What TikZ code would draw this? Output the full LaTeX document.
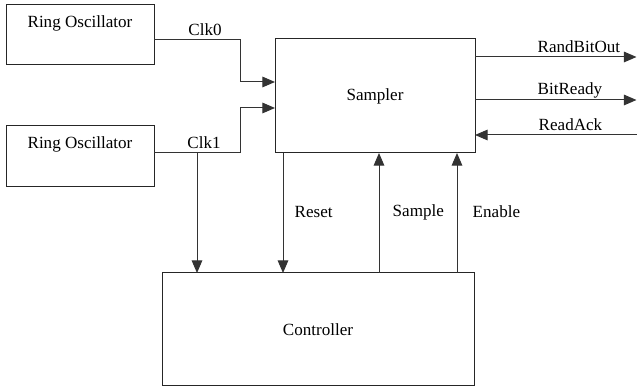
\documentclass[tikz,border=0pt]{standalone}
\usepackage{fontspec}
\setmainfont{Liberation Serif}
\newfontfamily\blockfont{Liberation Serif}
\usetikzlibrary{arrows.meta}

\begin{document}
\begin{tikzpicture}[x=0.75pt,y=-0.75pt,
    font=\blockfont\fontsize{12.8}{14}\selectfont,
    blk/.style={draw=black!85, line width=0.75pt, inner sep=0pt, outer sep=0pt},
    sig/.style={draw=black!80, line width=0.75pt, -{Triangle[length=9.5pt,width=8pt]}}]
    \useasboundingbox (0,0) rectangle (637,388);

    % blocks
    \node (ro0) at (80,35)[blk, minimum width=111pt, minimum height=45pt,
        label={[anchor=north, yshift=-4.5pt]north:Ring Oscillator}]{} ;
    \node (ro1) at (80,156.5)[blk, minimum width=111pt, minimum height=45.75pt,
        label={[anchor=north, yshift=-4.5pt]north:Ring Oscillator}]{} ;
    \node (smp) at (375,96)[blk, minimum width=150pt, minimum height=85.5pt]{Sampler} ;
    \node (ctl) at (318,329.5)[blk, minimum width=234pt, minimum height=84.75pt]{Controller} ;

    % wire ends and bends
    \coordinate (o0) at (154,39.5);
    \coordinate (o1) at (154,152.5);
    \coordinate (bend) at (240,0);
    \coordinate (i0) at (275,82);
    \coordinate (i1) at (275,108);
    \coordinate (tap) at (197,152.5);
    \coordinate (xrst) at (283,0);
    \coordinate (xsmp) at (379,0);
    \coordinate (xen) at (457,0);
    \coordinate (rbo) at (636.5,57);
    \coordinate (brdy) at (636.5,100);
    \coordinate (rack) at (636.5,135);

    % clocks into the sampler
    \draw[sig] (o0) -| (bend |- i0) -- (i0);
    \draw[sig] (o1) -| (bend |- i1) -- (i1);
    \draw[sig] (tap) -- (tap |- ctl.north);
    \node (clk0) at (205,30){Clk0} ;
    \node (clk1) at (204,143){Clk1} ;

    % outputs and handshake
    \draw[sig] (smp.east |- rbo) -- (rbo);
    \draw[sig] (smp.east |- brdy) -- (brdy);
    \draw[sig] (rack) -- (smp.east |- rack);
    \node (lrbo) at (533,47)[anchor=west]{RandBitOut} ;
    \node (lbrdy) at (533,90)[anchor=west]{BitReady} ;
    \node (lrack) at (534,125)[anchor=west]{ReadAck} ;

    % control lines
    \draw[sig] (smp.south -| xrst) -- (ctl.north -| xrst);
    \draw[sig] (ctl.north -| xsmp) -- (smp.south -| xsmp);
    \draw[sig] (ctl.north -| xen) -- (smp.south -| xen);
    \node (lrst) at (290,212)[anchor=west]{Reset} ;
    \node (lsmp) at (388,212)[anchor=west]{Sample} ;
    \node (len) at (468,212)[anchor=west]{Enable} ;
\end{tikzpicture}
\end{document}
